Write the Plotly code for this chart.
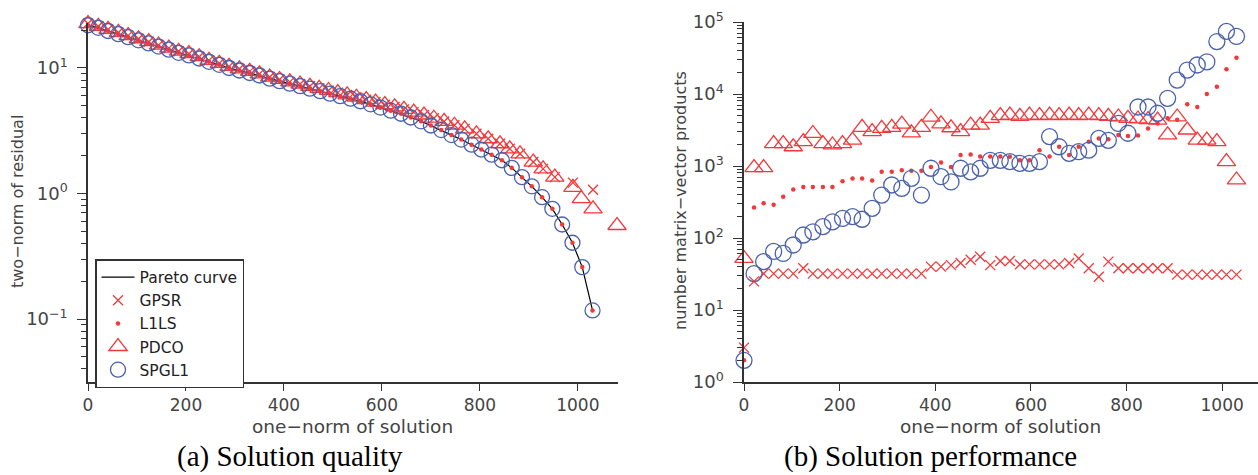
import plotly.graph_objects as go

# ---------------- data ----------------
# (a) Solution quality
tau = [0, 21, 41, 62, 82, 103, 124, 144, 165, 185, 206, 227, 247, 268, 288, 309, 330, 350, 371, 391,
       412, 433, 453, 474, 494, 515, 536, 556, 577, 597, 618, 639, 659, 680, 700, 721, 742, 762, 783, 803,
       824, 845, 865, 886, 906, 927, 948, 968, 989, 1009, 1030]
pareto_res = [21.9, 20.9, 19.7, 18.6, 17.6, 16.6, 15.7, 14.8, 14.0, 13.2, 12.6, 11.9, 11.2, 10.6, 10.0,
              9.55, 9.12, 8.71, 8.22, 7.85, 7.50, 7.16, 6.84, 6.53, 6.24, 5.96, 5.69, 5.43, 5.13, 4.84,
              4.57, 4.32, 4.03, 3.76, 3.48, 3.20, 2.92, 2.69, 2.45, 2.24, 2.04, 1.84, 1.60, 1.35, 1.14,
              0.935, 0.755, 0.566, 0.405, 0.259, 0.117]

pdco_norm = [0, 21, 41, 62, 82, 103, 124, 144, 165, 185, 206, 227, 247, 268, 288, 309, 330, 350, 371, 391,
             412, 433, 453, 472, 491, 510, 529, 548, 568, 587, 606, 626, 645, 665, 686, 706, 727, 748, 769,
             793, 817, 841, 861, 882, 909, 929, 953, 990, 1007, 1031, 1080]
pdco_res = [22.6, 21.5, 20.3, 19.2, 18.1, 17.1, 16.2, 15.2, 14.4, 13.6, 13.0, 12.3, 11.5, 10.9, 10.3,
            9.85, 9.4, 8.97, 8.47, 8.1, 7.75, 7.45, 7.15, 6.88, 6.62, 6.36, 6.1, 5.85, 5.6, 5.35, 5.1,
            4.9, 4.68, 4.45, 4.22, 3.98, 3.75, 3.5, 3.27, 2.99, 2.73, 2.49, 2.27, 2.07, 1.78, 1.57, 1.35,
            1.12, 0.91, 0.755, 0.556]

gpsr_norm = [0, 21, 41, 62, 82, 103, 124, 144, 165, 185, 206, 227, 247, 268, 288, 309, 330, 350, 371, 391,
             412, 433, 453, 472, 491, 510, 529, 548, 568, 587, 606, 626, 645, 665, 686, 706, 727, 748, 769,
             793, 817, 841, 861, 882, 909, 929, 953, 990, 1031]
gpsr_res = [22.6, 21.5, 20.3, 19.2, 18.1, 17.1, 16.2, 15.2, 14.4, 13.6, 13.0, 12.3, 11.5, 10.9, 10.3,
            9.85, 9.4, 8.97, 8.47, 8.1, 7.75, 7.45, 7.15, 6.88, 6.62, 6.36, 6.1, 5.85, 5.6, 5.35, 5.1,
            4.9, 4.68, 4.45, 4.22, 3.98, 3.75, 3.5, 3.27, 2.99, 2.73, 2.49, 2.27, 2.07, 1.78, 1.57, 1.35,
            1.22, 1.07]

# (b) Solution performance: number of matrix-vector products
spgl1_nmat = [2, 32, 47, 65, 61, 80, 110, 122, 144, 168, 187, 198, 182, 258, 395, 545, 490, 675, 395,
              930, 710, 600, 930, 830, 930, 1200, 1200, 1150, 1090, 1090, 1150, 2560, 1850, 1500, 1580,
              1660, 2420, 2270, 3900, 2850, 6600, 6600, 5400, 8700, 15600, 21500, 25300, 28000, 53500,
              74000, 63000]
l1ls_nmat = [2, 265, 305, 290, 375, 470, 510, 510, 510, 510, 615, 670, 670, 630, 830, 830, 870, 860, 860,
             970, 1120, 970, 1420, 1450, 1350, 1350, 1350, 1340, 1200, 1200, 1660, 1350, 1850, 1420, 1850,
             2180, 2400, 2350, 2700, 2600, 2650, 3330, 3900, 4600, 4400, 7200, 6600, 10000, 12600, 22000,
             31800]
pdco_nmat = [52, 950, 950, 2050, 2050, 1850, 2180, 2830, 2050, 1960, 2050, 2290, 3450, 3000, 3330, 3450,
             3820, 2890, 3450, 4760, 3850, 3400, 3000, 3700, 3700, 4600, 5000, 5100, 4900, 5100, 5000,
             5100, 5000, 5100, 5000, 5100, 5000, 4900, 4800, 4600, 4500, 4400, 4350, 2700, 4800, 3160,
             2290, 2290, 2180, 1150, 640]
gpsr_nmat = [3, 25, 32, 32, 32, 32, 38, 32, 32, 32, 32, 32, 32, 32, 32, 32, 32, 32, 32, 40, 40, 42, 45,
             50, 55, 42, 48, 48, 43, 43, 43, 43, 43, 45, 52, 38, 29, 47, 38, 38, 38, 38, 38, 38, 31, 31,
             31, 31, 31, 31, 31]

x_ticks = [0, 200, 400, 600, 800, 1000]
left_y_ticks = [0.1, 1, 10]
left_y_text = ["10<sup>−1</sup>", "10<sup>0</sup>", "10<sup>1</sup>"]
left_y_minor = [0.04, 0.05, 0.06, 0.07, 0.08, 0.09, 0.2, 0.3, 0.4, 0.5, 0.6, 0.7, 0.8, 0.9,
                2, 3, 4, 5, 6, 7, 8, 9, 20]
right_y_ticks = [1, 10, 100, 1000, 10000, 100000]
right_y_text = ["10<sup>0</sup>", "10<sup>1</sup>", "10<sup>2</sup>", "10<sup>3</sup>",
                "10<sup>4</sup>", "10<sup>5</sup>"]
right_y_minor = [m * d for d in [1, 10, 100, 1000, 10000] for m in [2, 3, 4, 5, 6, 7, 8, 9]]

# ---------------- style ----------------
RED = "#f2383a"
BLUE = "#4a62ad"
AXC = "#333333"
TXC = "#444444"
SANS = "DejaVu Sans"
SERIF = "Liberation Serif"

fig = go.Figure()

# left panel
fig.add_trace(go.Scatter(x=tau, y=pareto_res, mode="lines", name="Pareto curve",
                         line=dict(color="black", width=1.2), xaxis="x", yaxis="y", cliponaxis=False))
fig.add_trace(go.Scatter(x=gpsr_norm, y=gpsr_res, mode="markers", name="GPSR",
                         marker=dict(symbol="x-thin-open", size=10, color=RED, line=dict(color=RED, width=1.3)),
                         xaxis="x", yaxis="y", cliponaxis=False))
fig.add_trace(go.Scatter(x=tau, y=pareto_res, mode="markers", name="L1LS",
                         marker=dict(symbol="circle", size=4.5, color=RED),
                         xaxis="x", yaxis="y", cliponaxis=False))
fig.add_trace(go.Scatter(x=pdco_norm, y=pdco_res, mode="markers", name="PDCO",
                         marker=dict(symbol="triangle-up-open", size=16, color=RED, line=dict(width=1.3)),
                         xaxis="x", yaxis="y", cliponaxis=False))
fig.add_trace(go.Scatter(x=tau, y=pareto_res, mode="markers", name="SPGL1",
                         marker=dict(symbol="circle-open", size=15, color=BLUE, line=dict(width=1.3)),
                         xaxis="x", yaxis="y", cliponaxis=False))

# right panel
fig.add_trace(go.Scatter(x=tau, y=gpsr_nmat, mode="markers", name="GPSR", showlegend=False,
                         marker=dict(symbol="x-thin-open", size=10, color=RED, line=dict(color=RED, width=1.3)),
                         xaxis="x2", yaxis="y2", cliponaxis=False))
fig.add_trace(go.Scatter(x=tau, y=l1ls_nmat, mode="markers", name="L1LS", showlegend=False,
                         marker=dict(symbol="circle", size=4.5, color=RED),
                         xaxis="x2", yaxis="y2", cliponaxis=False))
fig.add_trace(go.Scatter(x=tau, y=pdco_nmat, mode="markers", name="PDCO", showlegend=False,
                         marker=dict(symbol="triangle-up-open", size=16, color=RED, line=dict(width=1.3)),
                         xaxis="x2", yaxis="y2", cliponaxis=False))
fig.add_trace(go.Scatter(x=tau, y=spgl1_nmat, mode="markers", name="SPGL1", showlegend=False,
                         marker=dict(symbol="circle-open", size=16, color=BLUE, line=dict(width=1.3)),
                         xaxis="x2", yaxis="y2", cliponaxis=False))

W, H = 1258, 475


def px_x(p):
    return p / W


def px_y(p):
    return (H - p) / H


common_x = dict(showline=True, linecolor=AXC, linewidth=1.5, ticks="outside", ticklen=7,
                tickwidth=1.3, tickcolor=AXC, showgrid=False, zeroline=False, automargin=False,
                tickmode="array", tickvals=x_ticks, tickfont=dict(family=SANS, size=17, color=TXC),
                ticklabelstandoff=0)
common_y = dict(type="log", showline=True, linecolor=AXC, linewidth=1.5, ticks="outside", ticklen=9,
                tickwidth=1.3, tickcolor=AXC, showgrid=False, zeroline=False, tickmode="array",
                automargin=False,
                tickfont=dict(family=SANS, size=18, color=TXC), ticklabelstandoff=6)

fig.update_layout(
    template="none",
    width=W, height=H, margin=dict(l=0, r=0, t=0, b=0, autoexpand=False),
    paper_bgcolor="white", plot_bgcolor="white",
    xaxis=dict(domain=[px_x(88), px_x(618)], range=[0, 1082], anchor="y", **common_x),
    yaxis=dict(domain=[px_y(382), px_y(22.8)], range=[-1.502, 1.36], anchor="x",
               tickvals=left_y_ticks, ticktext=left_y_text,
               minor=dict(tickmode="array", tickvals=left_y_minor, ticks="outside", ticklen=5,
                          tickcolor=AXC, tickwidth=1.1, showgrid=False),
               **common_y),
    xaxis2=dict(domain=[px_x(744), 1.0], range=[0, 1075], anchor="y2", **common_x),
    yaxis2=dict(domain=[px_y(382), px_y(22)], range=[0, 5], anchor="x2",
                tickvals=right_y_ticks, ticktext=right_y_text,
                minor=dict(tickmode="array", tickvals=right_y_minor, ticks="outside", ticklen=5,
                           tickcolor=AXC, tickwidth=1.1, showgrid=False),
                **common_y),
    legend=dict(x=px_x(95), y=px_y(259), xanchor="left", yanchor="top",
                bgcolor="white", bordercolor=AXC, borderwidth=1.5, itemwidth=33,
                font=dict(family=SANS, size=15.5, color="#222222"), tracegroupgap=0),
    showlegend=True,
)

ann = [
    dict(text="two−norm of residual", x=px_x(18), y=px_y(202), textangle=-90,
         font=dict(family=SANS, size=16, color=TXC)),
    dict(text="number matrix−vector products", x=px_x(681), y=px_y(201), textangle=-90,
         font=dict(family=SANS, size=16, color=TXC)),
    dict(text="one−norm of solution", x=px_x(352), y=px_y(426),
         font=dict(family=SANS, size=18.5, color=TXC)),
    dict(text="one−norm of solution", x=px_x(1000), y=px_y(426),
         font=dict(family=SANS, size=18.5, color=TXC)),
    dict(text="(a) Solution quality", x=px_x(290), y=px_y(456),
         font=dict(family=SERIF, size=29, color="black")),
    dict(text="(b) Solution performance", x=px_x(930), y=px_y(456),
         font=dict(family=SERIF, size=29, color="black")),
]
for a in ann:
    fig.add_annotation(xref="paper", yref="paper", showarrow=False, xanchor="center",
                       yanchor="middle", **a)

fig.write_html("out.html", config={"displayModeBar": False},
               post_script="document.body.style.margin='0';document.body.style.overflow='hidden';")
